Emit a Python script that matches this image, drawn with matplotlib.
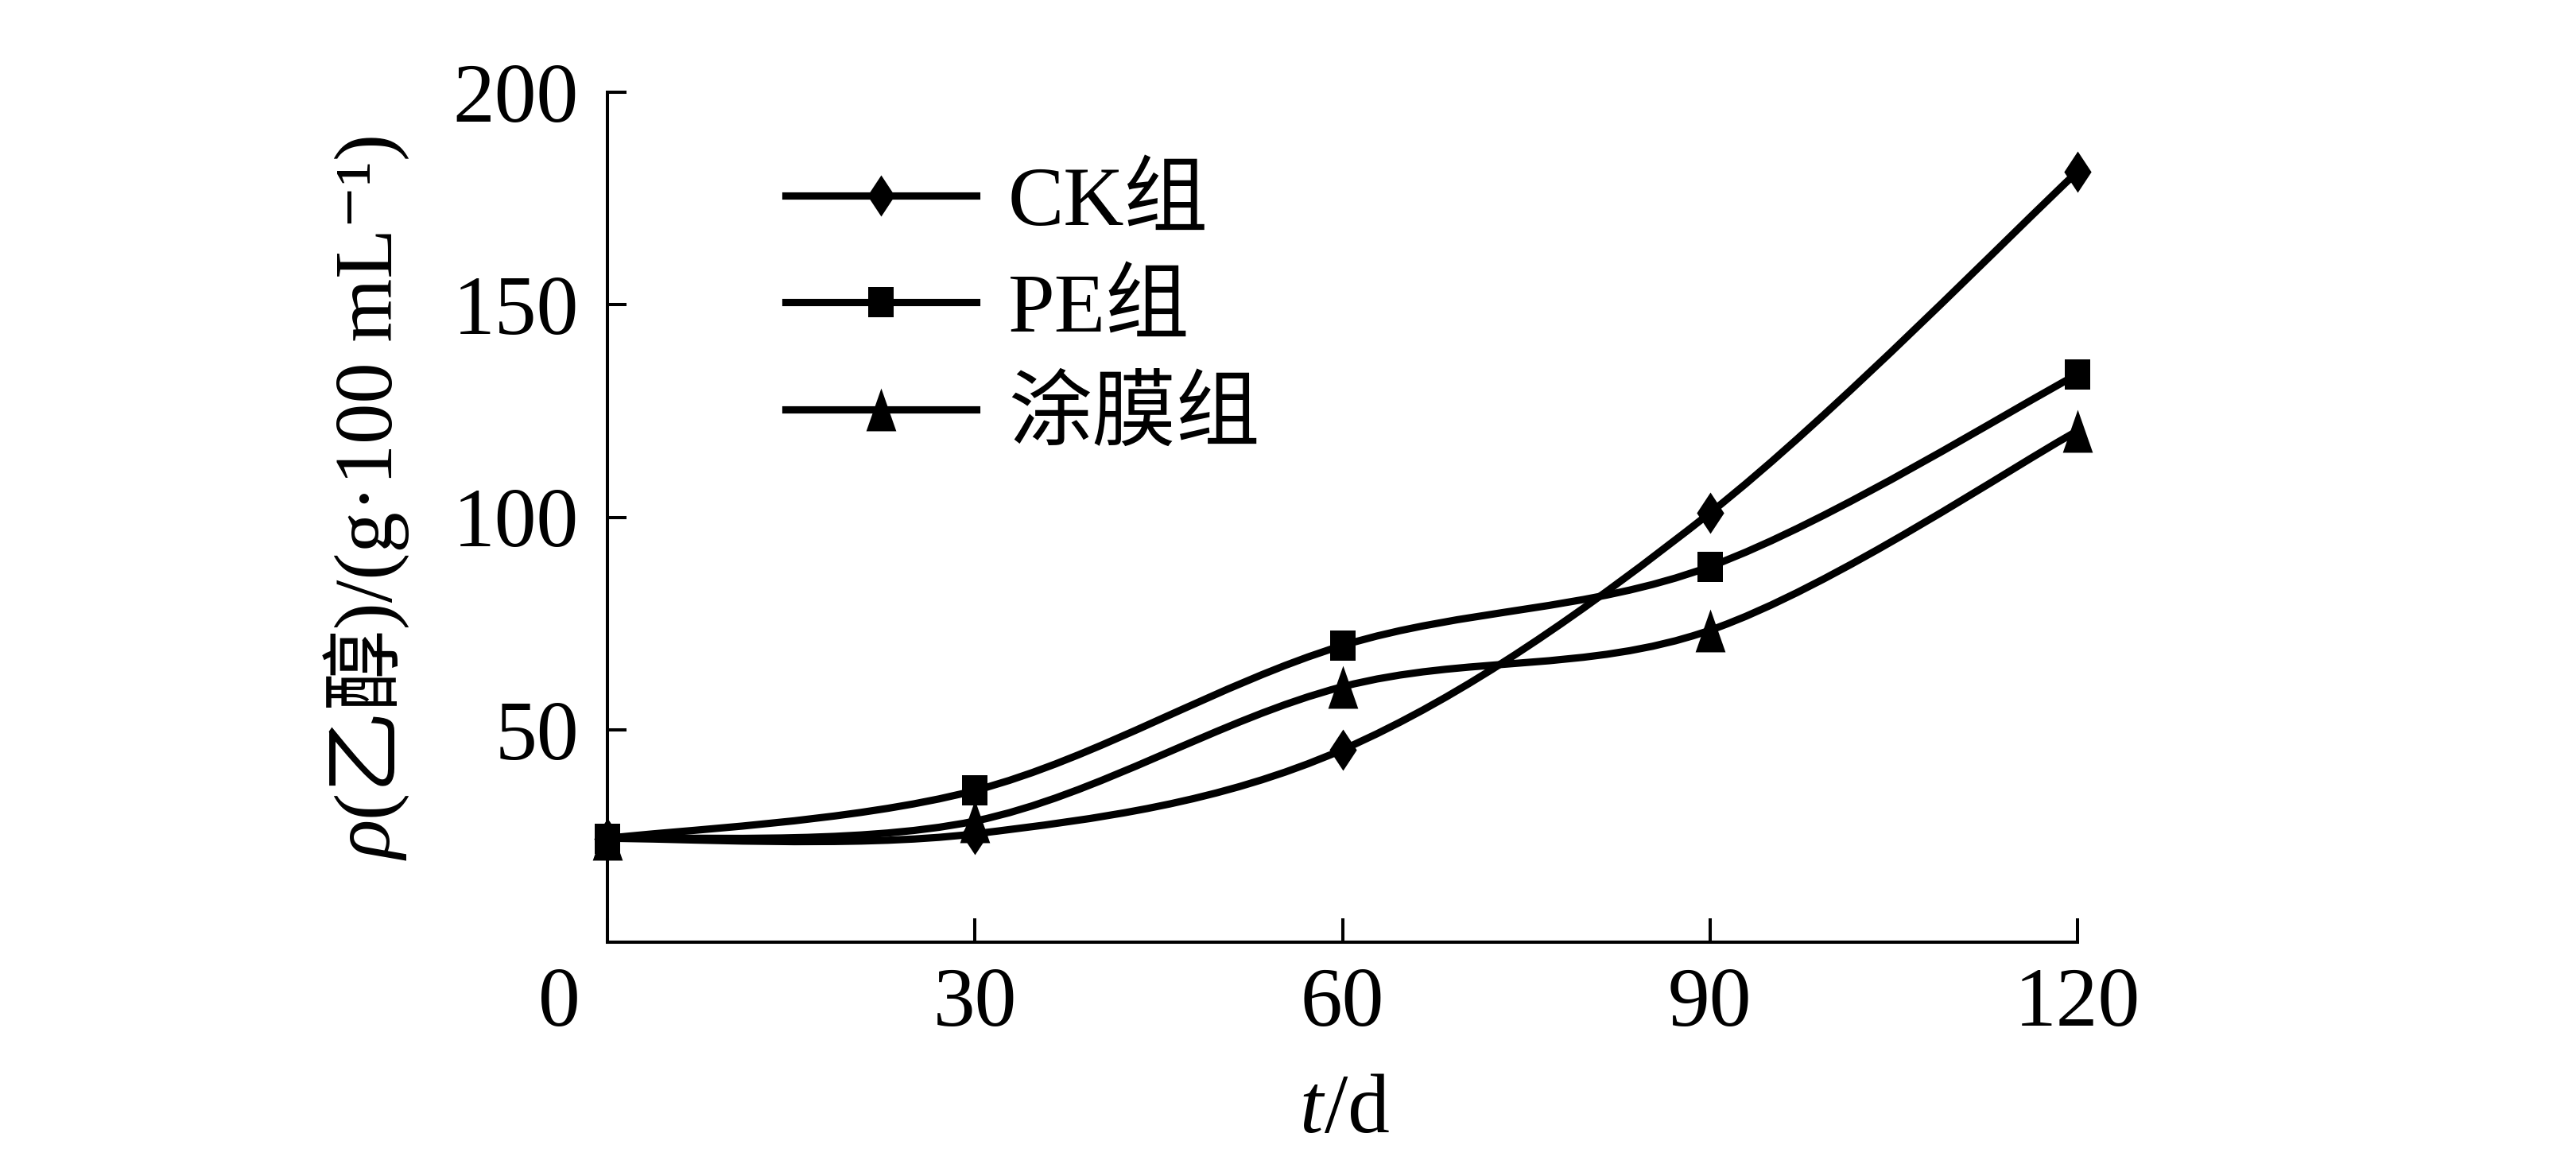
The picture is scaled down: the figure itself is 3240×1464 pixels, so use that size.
import matplotlib
matplotlib.use('Agg')
import matplotlib.pyplot as plt
import matplotlib.transforms as mtransforms
from matplotlib.path import Path
from matplotlib.patches import PathPatch
from matplotlib.lines import Line2D
import numpy as np

plt.rcParams['font.family'] = ['Liberation Serif', 'Noto Sans CJK SC', 'DejaVu Serif']

days = [0, 30, 60, 90, 120]
ck = [24.4, 25.5, 45.3, 101.0, 181.3]
pe = [24.4, 35.7, 69.8, 88.4, 133.6]
tumo = [24.4, 28.5, 60.1, 73.4, 120.3]
series_names = ['CK组', 'PE组', '涂膜组']
xticks = [0, 30, 60, 90, 120]
yticks = [50, 100, 150, 200]

DPI = 200
FS = 38
LW = 3.3

# markers are a bit taller than wide in the original
m_diamond = [(0, 1), (0.66, 0), (0, -1), (-0.66, 0), (0, 1)]
m_square = [(-0.8, -1), (0.8, -1), (0.8, 1), (-0.8, 1), (-0.8, -1)]
m_triangle = [(0, 1), (0.7, -1), (-0.7, -1), (0, 1)]
styles = [(m_diamond, 18.7), (m_square, 14.0), (m_triangle, 19.4)]


def smooth_path(x, y):
    # smoothed line (catmull-rom as bezier) like the original chart
    p = np.column_stack([x, y]).astype(float)
    n = len(p)
    verts = [p[0]]
    codes = [Path.MOVETO]
    for i in range(n - 1):
        pa = p[max(i - 1, 0)]
        pb = p[min(i + 2, n - 1)]
        c1 = p[i] + (p[i + 1] - pa) / 6
        c2 = p[i + 1] - (pb - p[i]) / 6
        verts += [c1, c2, p[i + 1]]
        codes += [Path.CURVE4] * 3
    return Path(verts, codes)


fig = plt.figure(figsize=(16.2, 7.32), dpi=DPI)
ax = fig.add_axes([764 / 3240, 1 - 1185 / 1464, (2613 - 764) / 3240, (1185 - 116) / 1464])

for vals, (mk, ms) in zip([ck, pe, tumo], styles):
    ax.add_patch(PathPatch(smooth_path(days, vals), fill=False, lw=LW,
                           edgecolor='black', capstyle='butt', joinstyle='round'))
    ax.plot(days, vals, linestyle='none', marker=mk, ms=ms, color='black',
            mew=0, clip_on=False, zorder=3)

ax.set_xlim(0, 120)
ax.set_ylim(0, 200)
for s in ['top', 'right']:
    ax.spines[s].set_visible(False)
for s in ['left', 'bottom']:
    ax.spines[s].set_linewidth(1.45)

ax.set_xticks(xticks)
ax.set_xticklabels([''] + [str(t) for t in xticks[1:]])
ax.set_yticks(yticks)
ax.set_yticklabels([str(t) for t in yticks])
ax.tick_params(axis='x', direction='in', length=10.8, width=1.45, pad=11.5, labelsize=FS)
ax.tick_params(axis='y', direction='in', length=8.6, width=1.45, pad=13, labelsize=FS)
# origin label sits left of the corner
ax.annotate('0', xy=(0, 0), xycoords='data', xytext=(-22, -11.5),
            textcoords='offset points', ha='center', va='top', fontsize=FS)

handles = [Line2D([], [], color='black', lw=LW, marker=mk, ms=ms, mew=0)
           for mk, ms in styles]
ax.legend(handles, series_names, loc='upper left',
          bbox_to_anchor=(988 / 3240, 1 - 209 / 1464), bbox_transform=fig.transFigure,
          frameon=False, fontsize=FS, handlelength=2.27, handletextpad=0.38,
          labelspacing=0.35, borderpad=0, borderaxespad=0, numpoints=1)

# axis labels built from pieces so the symbols can be italic
renderer = fig.canvas.get_renderer()


def pieces_text(pieces, rotation, size):
    out = []
    for s, st in pieces:
        t = fig.text(0, 0, s, transform=mtransforms.IdentityTransform(),
                     rotation=rotation, rotation_mode='anchor', ha='left',
                     va='baseline', fontsize=size, style=st)
        bb = t.get_window_extent(renderer)
        out.append((t, bb.height if rotation else bb.width))
    return out


ylab = pieces_text([('ρ', 'italic'), ('(乙醇)/(g·100 mL⁻¹)', 'normal')], 90, 37)
pos = 1464 - 1082
for t, size in ylab:
    t.set_position((493, pos))
    pos += size + 2

xlab = pieces_text([('t', 'italic'), ('/d', 'normal')], 0, FS)
total = sum(w for _, w in xlab)
pos = 1690 - total / 2
for t, size in xlab:
    t.set_position((pos, 1464 - 1424))
    pos += size + 2

fig.savefig('out.png', dpi=DPI)
